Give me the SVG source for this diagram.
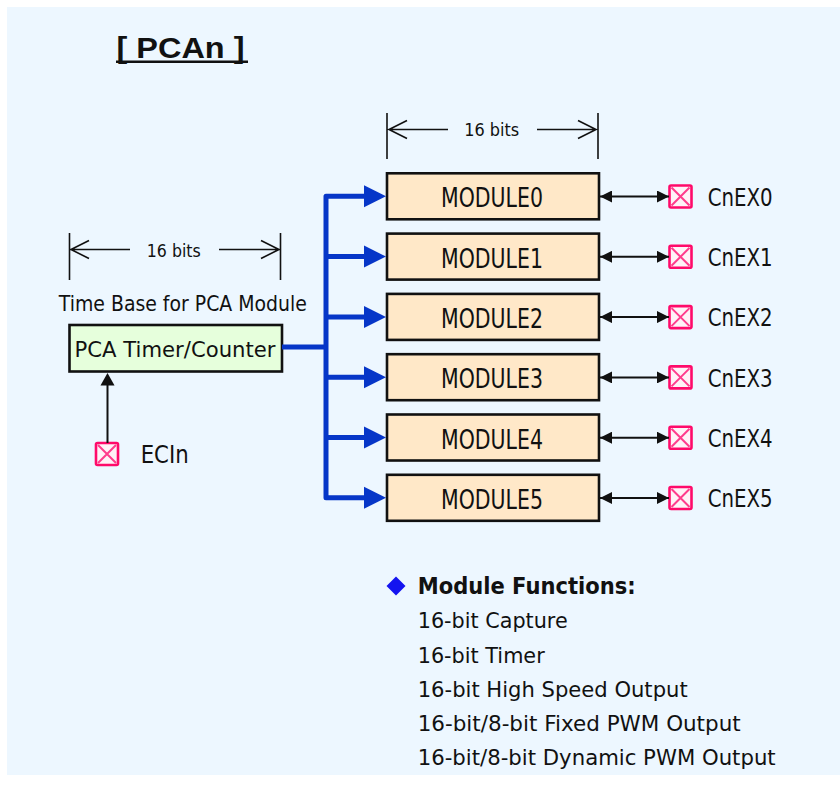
<svg xmlns="http://www.w3.org/2000/svg" xmlns:xlink="http://www.w3.org/1999/xlink" width="840" height="785" viewBox="0 0 840 785">
  <style>
    .t { font-family: "DejaVu Sans", "Noto Sans", sans-serif; fill: #111; }
    .dim { stroke: #111; stroke-width: 1.6; fill: none; }
    .mod rect { fill: #FFE8C8; stroke: #111; stroke-width: 2.6; }
    .bus { stroke: #0636C8; stroke-width: 5; fill: none; stroke-linejoin: round; stroke-linecap: butt; }
    .blk { stroke: #111; stroke-width: 2; fill: none; }
  </style>
  <defs>
    <polygon id="bh" points="364,-11 386,0 364,11" fill="#0636C8"/>
    <marker id="ah" viewBox="0 0 12 12" refX="12" refY="6" markerWidth="12" markerHeight="12" markerUnits="userSpaceOnUse" orient="auto-start-reverse">
      <path d="M0,0 L12,6 L0,12 z" fill="#111"/>
    </marker>
    <g id="pinbox">
      <rect x="0" y="0" width="22" height="22" rx="1.5" fill="#FFF2F7" stroke="#FF0A6A" stroke-width="2.6"/>
      <path d="M2,2 L20,20 M20,2 L2,20" stroke="#FF3C8C" stroke-width="2" fill="none"/>
    </g>
  </defs>

  <rect x="7" y="7" width="833" height="768" fill="#EDF7FF"/>

  <g id="title">
    <text x="116.5" y="58" font-family="Liberation Sans, Arial, sans-serif" font-weight="bold" font-size="29" textLength="128" lengthAdjust="spacingAndGlyphs" fill="#111">[ PCAn ]</text>
    <rect x="116" y="60.5" width="132" height="2.5" fill="#111"/>
  </g>

  <g id="dim-top">
    <path class="dim" d="M387,113 V159 M598,113 V159 M389,129.5 H448 M537,129.5 H596 M407,120.5 L389,129.5 L407,138.5 M578,120.5 L596,129.5 L578,138.5"/>
    <text class="t" x="491.7" y="136" font-size="17" text-anchor="middle" textLength="55" lengthAdjust="spacingAndGlyphs">16 bits</text>
  </g>

  <g id="dim-left">
    <path class="dim" d="M69.5,233 V280 M280.5,233 V280 M71,249.5 H130 M219,249.5 H279 M89,240.5 L71,249.5 L89,258.5 M261,240.5 L279,249.5 L261,258.5"/>
    <text class="t" x="173.8" y="256.7" font-size="17" text-anchor="middle" textLength="54" lengthAdjust="spacingAndGlyphs">16 bits</text>
  </g>

  <g id="timebase-label">
    <text class="t" x="182.8" y="310.7" font-size="21" text-anchor="middle" textLength="248" lengthAdjust="spacingAndGlyphs">Time Base for PCA Module</text>
  </g>

  <g id="pca-timer">
    <rect x="69.5" y="325" width="212.5" height="46.5" fill="#E6FFDC" stroke="#111" stroke-width="2.6"/>
    <text class="t" x="175" y="356.7" font-size="22" text-anchor="middle" textLength="201" lengthAdjust="spacingAndGlyphs">PCA Timer/Counter</text>
  </g>

  <g id="ecin">
    <use xlink:href="#pinbox" x="96" y="443"/>
    <text class="t" x="140.7" y="462.7" font-size="24" textLength="48" lengthAdjust="spacingAndGlyphs">ECIn</text>
  </g>

  <g id="module0" class="mod"><rect x="387" y="173.3" width="212" height="46"/><text class="t" x="492" y="207.3" font-size="26" text-anchor="middle" textLength="102" lengthAdjust="spacingAndGlyphs">MODULE0</text></g>
  <g id="module1" class="mod"><rect x="387" y="233.6" width="212" height="46"/><text class="t" x="492" y="267.6" font-size="26" text-anchor="middle" textLength="102" lengthAdjust="spacingAndGlyphs">MODULE1</text></g>
  <g id="module2" class="mod"><rect x="387" y="293.9" width="212" height="46"/><text class="t" x="492" y="327.9" font-size="26" text-anchor="middle" textLength="102" lengthAdjust="spacingAndGlyphs">MODULE2</text></g>
  <g id="module3" class="mod"><rect x="387" y="354.2" width="212" height="46"/><text class="t" x="492" y="388.2" font-size="26" text-anchor="middle" textLength="102" lengthAdjust="spacingAndGlyphs">MODULE3</text></g>
  <g id="module4" class="mod"><rect x="387" y="414.5" width="212" height="46"/><text class="t" x="492" y="448.5" font-size="26" text-anchor="middle" textLength="102" lengthAdjust="spacingAndGlyphs">MODULE4</text></g>
  <g id="module5" class="mod"><rect x="387" y="474.8" width="212" height="46"/><text class="t" x="492" y="508.8" font-size="26" text-anchor="middle" textLength="102" lengthAdjust="spacingAndGlyphs">MODULE5</text></g>

  <g id="cnex0"><use xlink:href="#pinbox" x="669.5" y="185.5"/><text class="t" x="707.7" y="205.7" font-size="24" textLength="65" lengthAdjust="spacingAndGlyphs">CnEX0</text></g>
  <g id="cnex1"><use xlink:href="#pinbox" x="669.5" y="245.8"/><text class="t" x="707.7" y="266" font-size="24" textLength="65" lengthAdjust="spacingAndGlyphs">CnEX1</text></g>
  <g id="cnex2"><use xlink:href="#pinbox" x="669.5" y="306.1"/><text class="t" x="707.7" y="326.3" font-size="24" textLength="65" lengthAdjust="spacingAndGlyphs">CnEX2</text></g>
  <g id="cnex3"><use xlink:href="#pinbox" x="669.5" y="366.4"/><text class="t" x="707.7" y="386.6" font-size="24" textLength="65" lengthAdjust="spacingAndGlyphs">CnEX3</text></g>
  <g id="cnex4"><use xlink:href="#pinbox" x="669.5" y="426.7"/><text class="t" x="707.7" y="446.9" font-size="24" textLength="65" lengthAdjust="spacingAndGlyphs">CnEX4</text></g>
  <g id="cnex5"><use xlink:href="#pinbox" x="669.5" y="487"/><text class="t" x="707.7" y="507.2" font-size="24" textLength="65" lengthAdjust="spacingAndGlyphs">CnEX5</text></g>

  <g id="connectors">
    <path class="bus" d="M282,347 H326 M366,196.3 H326 V497.8 H366 M326,256.6 H366 M326,316.9 H366 M326,377.2 H366 M326,437.5 H366"/>
    <use xlink:href="#bh" y="196.3"/>
    <use xlink:href="#bh" y="256.6"/>
    <use xlink:href="#bh" y="316.9"/>
    <use xlink:href="#bh" y="377.2"/>
    <use xlink:href="#bh" y="437.5"/>
    <use xlink:href="#bh" y="497.8"/>

    <line class="blk" x1="600" y1="196.5" x2="669" y2="196.5" marker-start="url(#ah)" marker-end="url(#ah)"/>
    <line class="blk" x1="600" y1="256.8" x2="669" y2="256.8" marker-start="url(#ah)" marker-end="url(#ah)"/>
    <line class="blk" x1="600" y1="317.1" x2="669" y2="317.1" marker-start="url(#ah)" marker-end="url(#ah)"/>
    <line class="blk" x1="600" y1="377.4" x2="669" y2="377.4" marker-start="url(#ah)" marker-end="url(#ah)"/>
    <line class="blk" x1="600" y1="437.7" x2="669" y2="437.7" marker-start="url(#ah)" marker-end="url(#ah)"/>
    <line class="blk" x1="600" y1="498" x2="669" y2="498" marker-start="url(#ah)" marker-end="url(#ah)"/>

    <line class="blk" x1="107.5" y1="443" x2="107.5" y2="385"/>
    <polygon points="100.5,385.5 107.5,373 114.5,385.5" fill="#111"/>
  </g>

  <g id="module-functions">
    <polygon points="396,576.5 405.5,586 396,595.5 386.5,586" fill="#1414F0"/>
    <text class="t" x="417.7" y="594.3" font-size="23" font-weight="bold" textLength="218" lengthAdjust="spacingAndGlyphs">Module Functions:</text>
    <text class="t" x="417.7" y="628.3" font-size="22" textLength="150" lengthAdjust="spacingAndGlyphs">16-bit Capture</text>
    <text class="t" x="417.7" y="662.5" font-size="22" textLength="127" lengthAdjust="spacingAndGlyphs">16-bit Timer</text>
    <text class="t" x="417.7" y="696.8" font-size="22" textLength="270" lengthAdjust="spacingAndGlyphs">16-bit High Speed Output</text>
    <text class="t" x="417.7" y="731.4" font-size="22" textLength="323" lengthAdjust="spacingAndGlyphs">16-bit/8-bit Fixed PWM Output</text>
    <text class="t" x="417.7" y="765.3" font-size="22" textLength="358" lengthAdjust="spacingAndGlyphs">16-bit/8-bit Dynamic PWM Output</text>
  </g>
</svg>
